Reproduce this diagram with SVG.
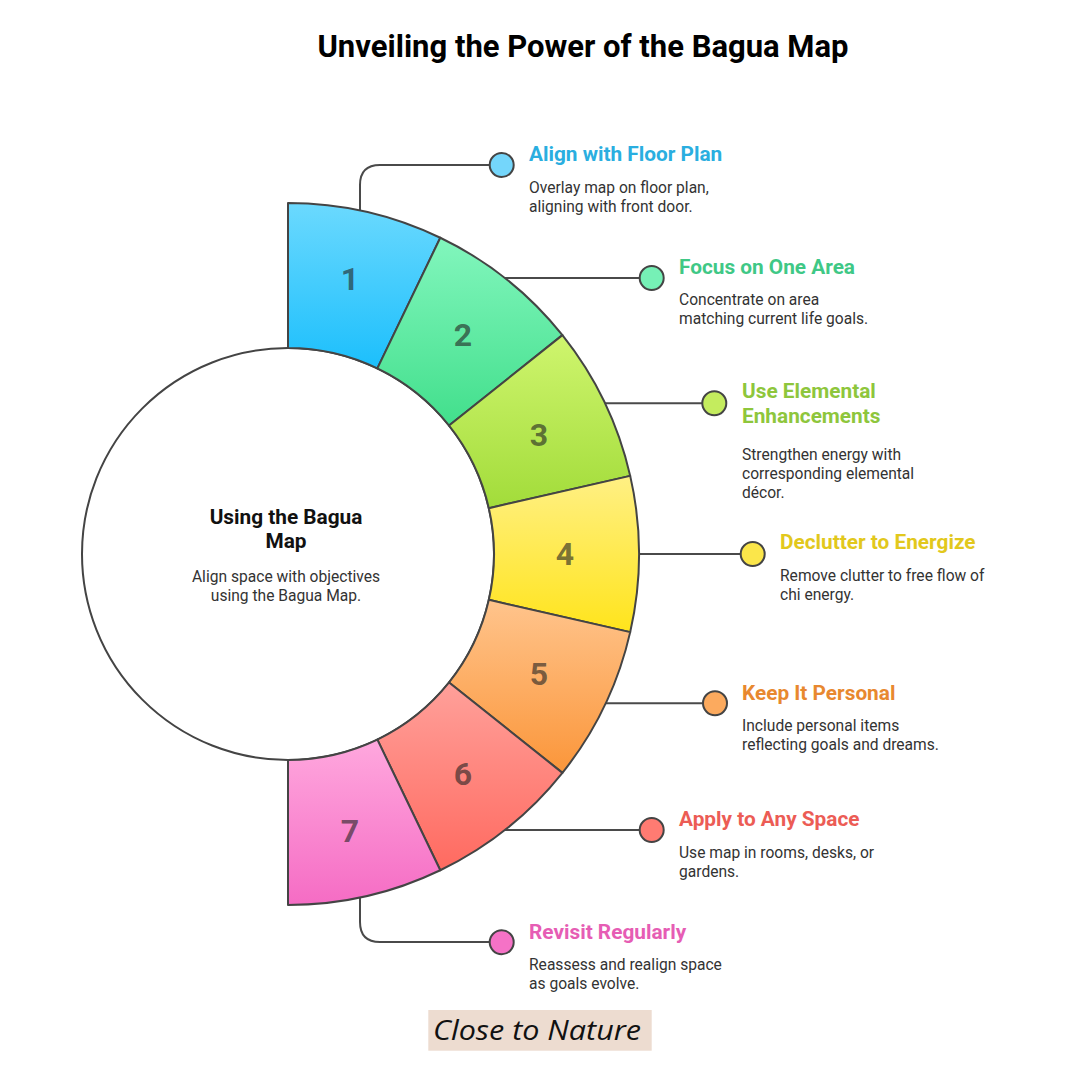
<svg xmlns="http://www.w3.org/2000/svg" width="1080" height="1080" viewBox="0 0 1080 1080">
<style>
text{font-family:Roboto,"Liberation Sans",sans-serif}
.seg{stroke:#444;stroke-width:2;stroke-linejoin:round}
.num{font-size:32px;font-weight:700;fill:#222;fill-opacity:0.62;text-anchor:middle}
.ttl{font-size:20.8px;font-weight:700}
.dsc{font-size:15.6px;fill:#333}
.con{fill:none;stroke:#4a4a4a;stroke-width:2}
.dot{stroke:#444;stroke-width:2}
</style>
<defs>
<linearGradient id="g1" x1="0" y1="0" x2="0" y2="1"><stop offset="0" stop-color="#6bd9fe"/><stop offset="1" stop-color="#1cbffc"/></linearGradient>
<linearGradient id="g2" x1="0" y1="0" x2="0" y2="1"><stop offset="0" stop-color="#82f6bd"/><stop offset="1" stop-color="#42df8c"/></linearGradient>
<linearGradient id="g3" x1="0" y1="0" x2="0" y2="1"><stop offset="0" stop-color="#cff56e"/><stop offset="1" stop-color="#a2dc3a"/></linearGradient>
<linearGradient id="g4" x1="0" y1="0" x2="0" y2="1"><stop offset="0" stop-color="#fff084"/><stop offset="1" stop-color="#ffe41c"/></linearGradient>
<linearGradient id="g5" x1="0" y1="0" x2="0" y2="1"><stop offset="0" stop-color="#ffc48c"/><stop offset="1" stop-color="#fb963a"/></linearGradient>
<linearGradient id="g6" x1="0" y1="0" x2="0" y2="1"><stop offset="0" stop-color="#ffa09a"/><stop offset="1" stop-color="#ff6a60"/></linearGradient>
<linearGradient id="g7" x1="0" y1="0" x2="0" y2="1"><stop offset="0" stop-color="#ffa8de"/><stop offset="1" stop-color="#f56cc4"/></linearGradient>
</defs>
<rect width="1080" height="1080" fill="#fff"/>
<text x="583" y="57" text-anchor="middle" style="font-size:31px;font-weight:700;fill:#000">Unveiling the Power of the Bagua Map</text>

<g id="connectors">
<path class="con" d="M360 210.5 V185 Q360 165 380 165 H490"/>
<path class="con" d="M504.9 278 H639"/>
<path class="con" d="M605 403.3 H702"/>
<path class="con" d="M639 554 H741"/>
<path class="con" d="M605.7 703.3 H703"/>
<path class="con" d="M504.9 830 H639"/>
<path class="con" d="M360 897.5 V922 Q360 942 380 942 H490"/>
</g>

<g id="center">
<circle cx="288" cy="554" r="206" fill="#fff" stroke="#444" stroke-width="2"/>
<text x="286" y="524" text-anchor="middle" style="font-size:20.8px;font-weight:700;fill:#111">Using the Bagua</text>
<text x="286" y="548" text-anchor="middle" style="font-size:20.8px;font-weight:700;fill:#111">Map</text>
<text x="286" y="582" text-anchor="middle" style="font-size:15.6px;fill:#333">Align space with objectives</text>
<text x="286" y="601" text-anchor="middle" style="font-size:15.6px;fill:#333">using the Bagua Map.</text>
</g>

<g id="seg1">
<path class="seg" fill="url(#g1)" d="M288 203 A351 351 0 0 1 440.29 237.76 L377.38 368.40 A206 206 0 0 0 288 348 Z"/>
<text class="num" x="350" y="290">1</text>
</g>
<g id="seg2">
<path class="seg" fill="url(#g2)" d="M440.29 237.76 A351 351 0 0 1 562.42 335.15 L449.06 425.56 A206 206 0 0 0 377.38 368.40 Z"/>
<text class="num" x="463" y="346">2</text>
</g>
<g id="seg3">
<path class="seg" fill="url(#g3)" d="M562.42 335.15 A351 351 0 0 1 630.20 475.90 L488.84 508.16 A206 206 0 0 0 449.06 425.56 Z"/>
<text class="num" x="539" y="446">3</text>
</g>
<g id="seg4">
<path class="seg" fill="url(#g4)" d="M630.20 475.90 A351 351 0 0 1 630.20 632.10 L488.84 599.84 A206 206 0 0 0 488.84 508.16 Z"/>
<text class="num" x="565" y="565">4</text>
</g>
<g id="seg5">
<path class="seg" fill="url(#g5)" d="M630.20 632.10 A351 351 0 0 1 562.42 772.85 L449.06 682.44 A206 206 0 0 0 488.84 599.84 Z"/>
<text class="num" x="539" y="685">5</text>
</g>
<g id="seg6">
<path class="seg" fill="url(#g6)" d="M562.42 772.85 A351 351 0 0 1 440.29 870.24 L377.38 739.60 A206 206 0 0 0 449.06 682.44 Z"/>
<text class="num" x="463" y="785">6</text>
</g>
<g id="seg7">
<path class="seg" fill="url(#g7)" d="M440.29 870.24 A351 351 0 0 1 288 905 L288 760 A206 206 0 0 0 377.38 739.60 Z"/>
<text class="num" x="350" y="842">7</text>
</g>

<g id="item1">
<circle class="dot" cx="501.7" cy="165" r="12" fill="#74d6fb"/>
<text class="ttl" x="529" y="160.5" fill="#2aaee0">Align with Floor Plan</text>
<text class="dsc" x="529" y="192.5">Overlay map on floor plan,</text>
<text class="dsc" x="529" y="211.5">aligning with front door.</text>
</g>
<g id="item2">
<circle class="dot" cx="651.7" cy="278" r="12" fill="#76f0b6"/>
<text class="ttl" x="679" y="273.5" fill="#3fc886">Focus on One Area</text>
<text class="dsc" x="679" y="304.5">Concentrate on area</text>
<text class="dsc" x="679" y="323.5">matching current life goals.</text>
</g>
<g id="item3">
<circle class="dot" cx="714.3" cy="403.3" r="12" fill="#c4ec5e"/>
<text class="ttl" x="742" y="398" fill="#8ec63c">Use Elemental</text>
<text class="ttl" x="742" y="423" fill="#8ec63c">Enhancements</text>
<text class="dsc" x="742" y="459.5">Strengthen energy with</text>
<text class="dsc" x="742" y="478.5">corresponding elemental</text>
<text class="dsc" x="742" y="497.5">décor.</text>
</g>
<g id="item4">
<circle class="dot" cx="752.7" cy="554" r="12" fill="#fbe64a"/>
<text class="ttl" x="780" y="549" fill="#e2c81c">Declutter to Energize</text>
<text class="dsc" x="780" y="580.5">Remove clutter to free flow of</text>
<text class="dsc" x="780" y="599.5">chi energy.</text>
</g>
<g id="item5">
<circle class="dot" cx="715" cy="703.3" r="12" fill="#fcaa5e"/>
<text class="ttl" x="742" y="699.5" fill="#e8882f">Keep It Personal</text>
<text class="dsc" x="742" y="731">Include personal items</text>
<text class="dsc" x="742" y="750">reflecting goals and dreams.</text>
</g>
<g id="item6">
<circle class="dot" cx="651.7" cy="830" r="12" fill="#ff7b72"/>
<text class="ttl" x="679" y="825.5" fill="#ec5c55">Apply to Any Space</text>
<text class="dsc" x="679" y="857.5">Use map in rooms, desks, or</text>
<text class="dsc" x="679" y="876.5">gardens.</text>
</g>
<g id="item7">
<circle class="dot" cx="501.7" cy="942.3" r="12" fill="#f572c6"/>
<text class="ttl" x="529" y="938.5" fill="#e65db4">Revisit Regularly</text>
<text class="dsc" x="529" y="969.5">Reassess and realign space</text>
<text class="dsc" x="529" y="988.5">as goals evolve.</text>
</g>

<g id="footer">
<rect x="428.3" y="1010" width="223.4" height="40.7" fill="#eddcd0"/>
<text x="537" y="1040" text-anchor="middle" textLength="208" lengthAdjust="spacingAndGlyphs" style="font-family:'Open Sans','Liberation Sans',sans-serif;font-size:27px;font-style:italic;fill:#111">Close to Nature</text>
</g>
</svg>
